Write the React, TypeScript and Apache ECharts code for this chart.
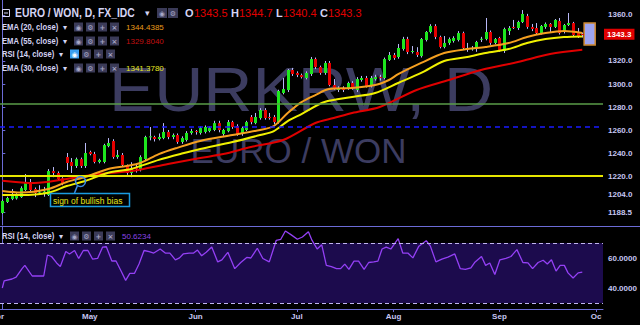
import React, { useEffect, useRef } from 'react';
import * as echarts from 'echarts';

// ---- candles (Apr 4 .. Sep 27, weekdays), index 0..126 ----
const candleOpen = [
  1187.8, 1197.4, 1200, 1200.5, 1201.7, 1207.8, 1214.8, 1208.7, 1206, 1205,
  1203.5, 1224.3, 1222.6, 1218, 1236.5, 1232.2, 1228.7, 1234.7, 1228.7, 1240.9,
  1239.1, 1232.2, 1232.2, 1246, 1250.4, 1236.5, 1238.3, 1228.7, 1222.6, 1227,
  1225.2, 1234.8, 1253.9, 1253.9, 1252.2, 1253, 1258.3, 1253.9, 1255.6, 1249.6,
  1251.3, 1257.4, 1259.1, 1257.4, 1258.3, 1259.1, 1260, 1266, 1256.5, 1259,
  1266.9, 1263.5, 1256.5, 1260, 1271.3, 1266, 1270.4, 1277.4, 1271.3, 1271.3,
  1266.9, 1292.2, 1294.8, 1312.2, 1309.6, 1307.8, 1305.2, 1308.7, 1321.7, 1314.8,
  1309.6, 1318.3, 1299.1, 1294.8, 1296.5, 1296.5, 1300.9, 1294.8, 1303.5, 1305.2,
  1298.3, 1304.3, 1306, 1305.2, 1320.9, 1325.2, 1323.5, 1330.4, 1339.1, 1327.8,
  1327.8, 1324.3, 1338.3, 1345.2, 1350.4, 1340.9, 1332.2, 1335.7, 1337.4, 1338.3,
  1344.3, 1331.3, 1330.4, 1331.3, 1339, 1339.1, 1345.2, 1335.7, 1340, 1328.7,
  1346, 1349.6, 1348.7, 1353.9, 1359.1, 1349.6, 1348.7, 1344.3, 1349.6, 1352.2,
  1349.6, 1354.8, 1345.2, 1351.3, 1353, 1344.3, 1343.5,
];
const candleClose = [
  1198.3, 1200.9, 1202.6, 1203.5, 1209.5, 1213.9, 1207.8, 1205.2, 1206.4, 1206.5,
  1224.3, 1222.6, 1217.4, 1213.9, 1231.3, 1228.7, 1234.7, 1228.7, 1240, 1239.1,
  1232.2, 1233.9, 1246.9, 1248.7, 1236.5, 1238.3, 1229.6, 1222.6, 1226.9, 1226.2,
  1236.5, 1253.9, 1254.5, 1252.2, 1253.9, 1258.3, 1253.9, 1255.6, 1249.6, 1253,
  1257.4, 1259.1, 1258.3, 1261.7, 1262.6, 1261.7, 1266, 1260, 1260, 1266.9,
  1262.6, 1256.5, 1261.7, 1266.9, 1266.9, 1271.3, 1277.4, 1270.4, 1270.4, 1266.9,
  1293.9, 1295.6, 1312.2, 1308.7, 1307.8, 1306, 1309.6, 1321.7, 1314.8, 1309.6,
  1318.3, 1299.1, 1296.5, 1296.5, 1294.8, 1300.9, 1296.5, 1304.3, 1305.2, 1298.3,
  1305.2, 1306, 1305.2, 1321.7, 1325.2, 1322.6, 1331.3, 1339.1, 1327.8, 1328.7,
  1325.2, 1339.1, 1345.2, 1350.4, 1340.9, 1332.2, 1335.7, 1339.1, 1340, 1344.3,
  1331.3, 1329.6, 1331, 1336.5, 1339.3, 1345.2, 1335.7, 1339.1, 1329.6, 1347.8,
  1348.7, 1348.7, 1353.9, 1360.9, 1349.6, 1347.8, 1344.3, 1350.4, 1352.2, 1349.6,
  1355.7, 1344.3, 1351.3, 1353, 1342.6, 1340.9, 1343.3,
];
const candleHigh = [
  1199.5, 1202, 1208.7, 1205, 1211, 1221.7, 1217.4, 1210, 1212, 1210.5,
  1226, 1227.8, 1224, 1219, 1240, 1235.6, 1236, 1236, 1248.7, 1242,
  1241, 1235, 1248, 1253, 1252, 1242.6, 1240, 1230, 1232, 1231,
  1238, 1255, 1262.6, 1255, 1257, 1266, 1260, 1257, 1257, 1254.5,
  1259, 1261, 1260, 1263, 1264, 1263, 1268, 1268, 1261, 1268.7,
  1268, 1265, 1263, 1268, 1273, 1274.8, 1279, 1279, 1274.8, 1273,
  1295, 1305.2, 1313, 1314, 1311, 1309, 1311, 1323.5, 1323, 1316,
  1320, 1320, 1304.3, 1298, 1298, 1302, 1302.5, 1306, 1307, 1307,
  1307, 1308, 1308, 1323, 1327.8, 1327, 1334.8, 1341, 1341, 1333,
  1332, 1340, 1346, 1352, 1352, 1342, 1341.7, 1340.5, 1341.5, 1346,
  1345.5, 1335.7, 1333, 1337.5, 1341, 1357.4, 1346.5, 1340, 1341, 1349,
  1350.4, 1355.7, 1355, 1364.3, 1361, 1352.2, 1353, 1351.3, 1353.5, 1353,
  1356.5, 1357.4, 1352.2, 1361.7, 1354, 1348.7, 1344.7,
];
const candleLow = [
  1187, 1196.5, 1199, 1199.5, 1201, 1207, 1206.5, 1201.7, 1203.5, 1202,
  1202.6, 1219, 1216, 1212, 1225.2, 1222.6, 1227, 1227, 1227, 1238,
  1231, 1231, 1231, 1245, 1235, 1235, 1228, 1221, 1219, 1223,
  1224, 1233, 1251, 1250, 1251, 1252, 1252, 1252, 1248, 1248,
  1250, 1256, 1256, 1256, 1257, 1258, 1259, 1258, 1255, 1258,
  1261, 1255, 1255, 1259, 1265, 1265, 1269, 1269, 1269, 1265,
  1265.5, 1291, 1293, 1307, 1306, 1304.8, 1304, 1307, 1313, 1308,
  1308, 1298, 1295, 1293, 1293, 1295, 1295, 1293, 1302, 1297,
  1297, 1303, 1303, 1304, 1320, 1321, 1322, 1329, 1326, 1326.5,
  1323.5, 1323, 1337, 1344, 1339, 1331, 1331, 1334, 1336, 1337,
  1330, 1328, 1329, 1328, 1336.5, 1338, 1334, 1334.5, 1328, 1327,
  1342.6, 1347.8, 1347, 1353, 1348, 1346, 1343, 1343, 1348, 1345.2,
  1348.7, 1343, 1344, 1350.4, 1341.7, 1340, 1340.4,
];

// ---- moving averages (bar index, value) ----
const ema20Idx = [0, 4, 10, 14, 18, 23, 27, 30, 34, 38, 43, 50, 56, 59, 62, 65, 68, 71, 76, 81, 84, 86, 91, 96, 101, 105, 110, 114, 118, 122, 126];
const ema20Val = [1206.9, 1205.6, 1208.7, 1214.8, 1219.1, 1226.1, 1228.7, 1231.3, 1239, 1244.5, 1250.5, 1255.6, 1260, 1263.5, 1274.8, 1284.3, 1290.4, 1295.6, 1296.5, 1299.1, 1303.5, 1308.5, 1318.3, 1326.9, 1330.4, 1332.2, 1335.6, 1340.9, 1344.3, 1346.1, 1344.4];
const ema30Idx = [0, 4, 10, 14, 18, 23, 28, 34, 39, 43, 50, 56, 59, 62, 65, 70, 76, 81, 86, 91, 96, 101, 105, 110, 114, 118, 122, 126];
const ema30Val = [1203.5, 1203.5, 1205.5, 1211.3, 1215.6, 1222.9, 1226.1, 1234, 1239.5, 1243.5, 1249.5, 1255.6, 1259.1, 1267.8, 1273.9, 1284.3, 1288.7, 1292.2, 1300.9, 1309.6, 1320, 1323.5, 1327, 1330.4, 1335.6, 1339.1, 1340.9, 1341.4];
const ema55Idx = [0, 7, 14, 21, 28, 36, 43, 48, 54, 61, 68, 72, 76, 82, 90, 97, 104, 112, 119, 126];
const ema55Val = [1215.9, 1213.9, 1217.4, 1221.7, 1224.3, 1230.4, 1235.6, 1239.1, 1245.2, 1251.3, 1266.1, 1270.4, 1274.8, 1280, 1294.8, 1303.5, 1312.2, 1319.1, 1326.1, 1329.8];

// ---- RSI (14) ----
const rsiIdx = [
  0, 0.4, 2.1, 3, 4.3, 4.9, 6.5, 8.3, 9, 9.8,
  10.7, 11.8, 12.6, 13.8, 14.6, 15.7, 16.6, 17.6, 18.6, 19.6,
  20.7, 21.8, 22.6, 23.8, 24.7, 25.8, 26.8, 27.7, 28.7, 29.7,
  30.8, 31.9, 32.9, 34.3, 35.4, 36.4, 37.6, 38.5, 39.3, 40.6,
  41.5, 42.4, 43.3, 44.3, 45.5, 46.8, 47.7, 49, 50.5, 51.8,
  53.1, 54, 55.4, 56.6, 58, 59.5, 60.5, 61.5, 62.7, 64.1,
  65.2, 66.5, 67.3, 68.4, 69.4, 70.4, 71.5, 72.6, 73.5, 74.4,
  75.3, 76.4, 77.4, 78.6, 79.6, 80.7, 81.6, 82.5, 83.4, 84.4,
  86, 87, 88.1, 89.2, 90.5, 92.1, 93, 94.2, 95.5, 96.8,
  98.3, 99.5, 100.6, 101.8, 102.6, 104.1, 105, 105.9, 107, 108.1,
  109.4, 110.5, 111.8, 113.1, 114.2, 115.2, 116.4, 117.5, 118.4, 119.3,
  120.3, 121.2, 122.1, 122.9, 124, 125.1, 126,
];
const rsiVal = [
  40, 44.7, 46, 47.3, 52.9, 55.1, 48, 48, 48, 62,
  61, 56.7, 54.3, 64.3, 62.7, 65, 59.7, 65, 65, 59.3,
  59.7, 67.3, 67.5, 58, 58, 51.3, 45.1, 49.7, 49.7, 56,
  65, 64.3, 63.3, 66, 63.3, 63.3, 58.8, 60.1, 62.7, 63.3,
  63.2, 65.3, 61.5, 63.8, 67.3, 57.4, 58.8, 63.8, 52.9, 57,
  60.4, 60, 66.5, 59.7, 57.4, 71.7, 72.5, 78, 75.6, 72.5,
  74, 77.5, 71.7, 66, 68.8, 55.1, 54.3, 52.9, 52.9, 55.9,
  52.4, 57.9, 57.9, 52.4, 57, 57.4, 57.9, 66, 67.3, 66,
  72.9, 63.3, 63.3, 60.1, 67.9, 71.5, 67.9, 57.4, 59.3, 60.6,
  62.7, 52.9, 52.4, 53.5, 57, 61, 55.1, 56.7, 49, 58.8,
  59.7, 61, 65.6, 57, 56.7, 52.9, 57, 58.5, 56, 58.8,
  51.3, 55.1, 55.1, 50.1, 46.7, 50.1, 50.6,
];

// ---- axes / levels ----
const monthIdx = [19, 42, 64, 85, 108, 129];
const monthNames = ['May', 'Jun', 'Jul', 'Aug', 'Sep', 'Oc'];
const priceTicks = [1188.5, 1204, 1220, 1240, 1260, 1280, 1300, 1320, 1360];
const rsiTicks = [40, 60];
const rsiBands = [30, 70];
const lastPrice = 1343.3;
const levelGreen = 1282.5;
const levelBlue = 1263;
const levelYellow = 1220;
const boxIdx = [126.4, 128.8];
const boxPrice = [1353, 1334];

const AXIS = '#6b6bd6';
const LABEL = '#c6c6f2';
const HEAD = '#d4d4f4';
const F = '"Liberation Sans", Arial, sans-serif';

function textEl(x: number, y: number, text: string, fill: string, font: string, extra: any = {}) {
  return {
    type: 'text', x, y, z: extra.z ?? 100, scaleX: extra.scaleX ?? 1,
    style: {
      text, fill, font,
      textAlign: extra.align ?? 'left', align: extra.align ?? 'left',
      textVerticalAlign: 'middle', verticalAlign: 'middle',
    },
  };
}

function icon(x: number, y: number, sym: string, size: number, bg = '#3b3b58', fg = '#a6a6c6') {
  return [
    { type: 'rect', z: 100, shape: { x, y: y - size / 2, width: size, height: size }, style: { fill: bg } },
    textEl(x + size / 2, y + 0.5, sym, fg, `bold 7px "DejaVu Sans", sans-serif`, { align: 'center' }),
  ];
}

function legendRow(y: number, label: string, value: string | null, valColor: string, iconX: number, arrowX: number, highlight = false) {
  const els: any[] = [
    textEl(2, y, label, HEAD, `bold 9px ${F}`, { scaleX: 0.85 }),
    textEl(arrowX, y, '▾', HEAD, `8px "DejaVu Sans", sans-serif`),
  ];
  const syms = ['◉', '⚙', '+', '×'];
  syms.forEach((s, k) => {
    const hl = highlight && k === 0;
    els.push(...icon(iconX + k * 12, y, s, 9, hl ? '#3a9ef0' : '#3b3b58', hl ? '#ffffff' : '#a6a6c6'));
  });
  if (value) els.push(textEl(126, y, value, valColor, `8px ${F}`));
  return els;
}

export default function App() {
  const ref = useRef<HTMLDivElement>(null);

  useEffect(() => {
    if (!ref.current) return;
    const chart = echarts.init(ref.current, undefined, { renderer: 'svg' });

    const candleData = candleOpen.map((o, i) => [i, o, candleClose[i], candleLow[i], candleHigh[i]]);

    const renderItem = (_params: any, api: any) => {
      const i = api.value(0);
      const o = api.value(1);
      const c = api.value(2);
      const l = api.value(3);
      const h = api.value(4);
      const pO = api.coord([i, o]);
      const pC = api.coord([i, c]);
      const pL = api.coord([i, l]);
      const pH = api.coord([i, h]);
      const up = c >= o;
      const w = 3;
      const top = Math.min(pO[1], pC[1]);
      const hgt = Math.max(1, Math.abs(pO[1] - pC[1]));
      const cx = Math.round(pO[0]) + 0.5;
      return {
        type: 'group',
        children: [
          { type: 'line', shape: { x1: cx, y1: pH[1], x2: cx, y2: pL[1] }, style: { stroke: '#b8b8f6', lineWidth: 1 } },
          { type: 'rect', shape: { x: cx - w / 2, y: top, width: w, height: hgt }, style: { fill: up ? '#1ee61e' : '#e60000' } },
        ],
      };
    };

    const pairs = (xs: number[], vs: number[]) => xs.map((x, k) => [x, vs[k]]);

    const graphics: any[] = [
      // watermarks
      { type: 'text', x: 301, y: 89, z: 0, scaleX: 1.08, style: { text: 'EURKRW, D', fill: '#3c3c60', font: `63px ${F}`, textAlign: 'center', align: 'center', textVerticalAlign: 'middle', verticalAlign: 'middle' } },
      { type: 'text', x: 298.5, y: 150, z: 0, style: { text: 'EURO / WON', fill: '#3c3c60', font: `35px ${F}`, textAlign: 'center', align: 'center', textVerticalAlign: 'middle', verticalAlign: 'middle' } },
      // panel separator
      { type: 'line', z: 60, shape: { x1: 0, y1: 226.5, x2: 640, y2: 226.5 }, style: { stroke: AXIS, lineWidth: 1 } },
      // header: title row
      { type: 'rect', z: 100, shape: { x: 2.5, y: 9.5, width: 7, height: 7 }, style: { fill: 'none', stroke: HEAD, lineWidth: 1 } },
      { type: 'line', z: 100, shape: { x1: 4, y1: 13, x2: 8, y2: 13 }, style: { stroke: HEAD, lineWidth: 1 } },
      textEl(15, 13, 'EURO / WON, D, FX_IDC', HEAD, `bold 12px ${F}`, { scaleX: 0.865 }),
      textEl(145, 13, '▾', HEAD, `9px "DejaVu Sans", sans-serif`),
      ...icon(157, 13, '◉', 10),
      ...icon(168, 13, '⚙', 10),
      textEl(185, 13, 'O', HEAD, `bold 11px ${F}`),
      textEl(194, 13, '1343.5', '#e00000', `11px ${F}`),
      textEl(231, 13, 'H', HEAD, `bold 11px ${F}`),
      textEl(239, 13, '1344.7', '#e00000', `11px ${F}`),
      textEl(276, 13, 'L', HEAD, `bold 11px ${F}`),
      textEl(283, 13, '1340.4', '#e00000', `11px ${F}`),
      textEl(320, 13, 'C', HEAD, `bold 11px ${F}`),
      textEl(328, 13, '1343.3', '#e00000', `11px ${F}`),
      ...legendRow(27, 'EMA (20, close)', '1344.4385', '#e89a1a', 74, 63),
      ...legendRow(41, 'EMA (55, close)', '1329.8040', '#c01010', 74, 63),
      ...legendRow(54, 'RSI (14, close)', null, '', 70, 59, true),
      ...legendRow(68, 'EMA (30, close)', '1341.3780', '#e6e620', 74, 63),
      // RSI panel header
      textEl(2, 236, 'RSI (14, close)', HEAD, `bold 9px ${F}`, { scaleX: 0.85 }),
      textEl(59, 236, '▾', HEAD, `8px "DejaVu Sans", sans-serif`),
      ...icon(70, 236, '◉', 9),
      ...icon(82, 236, '⚙', 9),
      ...icon(94, 236, '+', 9),
      ...icon(106, 236, '×', 9),
      textEl(122, 236, '50.6234', '#8a44e6', `8px ${F}`),
      // annotation
      { type: 'circle', z: 50, shape: { cx: 80.5, cy: 181.5, r: 5 }, style: { fill: 'none', stroke: '#3c8fe6', lineWidth: 1.5 } },
      { type: 'line', z: 50, shape: { x1: 77.5, y1: 185.5, x2: 74.5, y2: 193 }, style: { stroke: '#3c8fe6', lineWidth: 1.5 } },
      { type: 'rect', z: 50, shape: { x: 50.5, y: 193.5, width: 79, height: 13 }, style: { fill: '#000', stroke: '#1b9be0', lineWidth: 1.5 } },
      textEl(53, 200.5, 'sign of bullish bias', '#e6e61e', `8.5px ${F}`),
      // cut month label at the left edge
      textEl(4, 316, 'Apr', LABEL, `bold 8px ${F}`, { align: 'right' }),
    ];

    chart.setOption({
      animation: false,
      backgroundColor: '#000000',
      grid: [
        { left: 0, right: 37, top: 0, height: 225 },
        { left: 0, right: 37, top: 227, height: 82 },
      ],
      xAxis: [
        { type: 'value', gridIndex: 0, min: -0.5, max: 130.5, show: false, splitLine: { show: false } },
        {
          type: 'value', gridIndex: 1, min: -0.5, max: 130.5,
          axisLine: { show: true, lineStyle: { color: AXIS } },
          axisTick: { show: true, customValues: monthIdx, length: 3, lineStyle: { color: AXIS } },
          axisLabel: {
            show: true, customValues: monthIdx, margin: 3,
            formatter: (v: number) => monthNames[monthIdx.indexOf(v)] ?? '',
            color: LABEL, fontSize: 8, fontWeight: 'bold', fontFamily: 'Liberation Sans',
          },
          splitLine: { show: false },
        },
      ],
      yAxis: [
        {
          type: 'value', gridIndex: 0, position: 'right', min: 1177.4, max: 1373.04,
          axisLine: { show: true, lineStyle: { color: AXIS } },
          axisTick: { show: true, customValues: priceTicks, length: 3, lineStyle: { color: AXIS } },
          axisLabel: {
            show: true, customValues: priceTicks, margin: 5,
            formatter: (v: number) => v.toFixed(1),
            color: LABEL, fontSize: 8, fontWeight: 'bold', fontFamily: 'Liberation Sans',
          },
          splitLine: { show: false },
        },
        {
          type: 'value', gridIndex: 1, position: 'right', min: 26, max: 80.67,
          axisLine: { show: true, lineStyle: { color: AXIS } },
          axisTick: { show: true, customValues: rsiTicks, length: 3, lineStyle: { color: AXIS } },
          axisLabel: {
            show: true, customValues: rsiTicks, margin: 5,
            formatter: (v: number) => v.toFixed(4),
            color: LABEL, fontSize: 8, fontWeight: 'bold', fontFamily: 'Liberation Sans',
          },
          splitLine: { show: false },
        },
      ],
      graphic: graphics,
      series: [
        {
          type: 'custom', name: 'EURKRW', xAxisIndex: 0, yAxisIndex: 0,
          renderItem, data: candleData, encode: { x: 0, y: [1, 2, 3, 4] }, clip: true, z: 2,
        },
        {
          type: 'line', name: 'EMA55', xAxisIndex: 0, yAxisIndex: 0, data: pairs(ema55Idx, ema55Val),
          showSymbol: false, smooth: 0.3, lineStyle: { color: '#e00000', width: 2 }, z: 3,
          markLine: {
            silent: true, symbol: 'none', label: { show: false },
            data: [
              { yAxis: levelGreen, lineStyle: { color: '#5a9c48', width: 1.5, type: 'solid' } },
              { yAxis: levelBlue, lineStyle: { color: '#1a1aff', width: 1.5, type: [5, 4] } },
              { yAxis: levelYellow, lineStyle: { color: '#e6e600', width: 2, type: 'solid' } },
            ],
          },
          markArea: {
            silent: true,
            data: [[
              { coord: [boxIdx[0], boxPrice[0]], itemStyle: { color: '#9ea4f0', borderColor: '#d08a30', borderWidth: 1.5 } },
              { coord: [boxIdx[1], boxPrice[1]] },
            ]],
          },
        },
        {
          type: 'line', name: 'EMA30', xAxisIndex: 0, yAxisIndex: 0, data: pairs(ema30Idx, ema30Val),
          showSymbol: false, smooth: 0.3, lineStyle: { color: '#f0f000', width: 2 }, z: 3,
        },
        {
          type: 'line', name: 'EMA20', xAxisIndex: 0, yAxisIndex: 0, data: pairs(ema20Idx, ema20Val),
          showSymbol: false, smooth: 0.3, lineStyle: { color: '#f5a020', width: 2 }, z: 3,
          markLine: {
            silent: true, symbol: 'none',
            data: [
              {
                yAxis: lastPrice,
                lineStyle: { color: 'rgba(0,0,0,0)', width: 1, type: 'solid' },
                label: {
                  show: true, position: 'end', distance: 1, formatter: lastPrice.toFixed(1),
                  color: '#ffffff', backgroundColor: '#e00000', padding: [2, 3, 1, 3],
                  fontSize: 8, fontWeight: 'bold', fontFamily: 'Liberation Sans',
                },
              },
            ],
          },
        },
        {
          type: 'line', name: 'RSI', xAxisIndex: 1, yAxisIndex: 1, data: pairs(rsiIdx, rsiVal),
          showSymbol: false, lineStyle: { color: '#9440f5', width: 1.3 }, z: 3,
          markArea: {
            silent: true,
            data: [[{ yAxis: rsiBands[0], itemStyle: { color: '#1c0b4d' } }, { yAxis: rsiBands[1] }]],
          },
          markLine: {
            silent: true, symbol: 'none', label: { show: false },
            lineStyle: { color: '#c0b4f0', type: [4, 3], width: 1 },
            data: [{ yAxis: rsiBands[1] }, { yAxis: rsiBands[0] }],
          },
        },
      ],
    });

    return () => chart.dispose();
  }, []);

  return (
    <div
      ref={ref}
      style={{ position: 'fixed', left: 0, top: 0, width: 640, height: 325, background: '#000' }}
    />
  );
}
